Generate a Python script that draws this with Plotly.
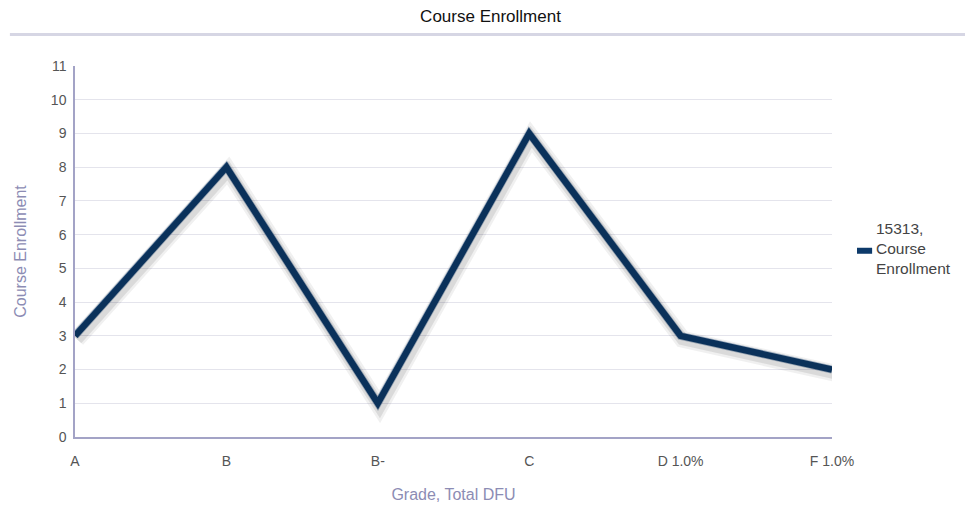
import plotly.graph_objects as go

categories = ["A", "B", "B-", "C", "D 1.0%", "F 1.0%"]
enrollment = [3, 8, 1, 9, 3, 2]
series_name = "15313,<br>Course<br>Enrollment"
y_ticks = list(range(0, 12))

fig = go.Figure()
# soft shadow under the line, drawn on slightly shifted overlay axes
fig.add_trace(go.Scatter(x=categories, y=enrollment, mode="lines",
                         line=dict(color="rgba(0,0,0,0.06)", width=17),
                         xaxis="x2", yaxis="y2", hoverinfo="skip", showlegend=False))
fig.add_trace(go.Scatter(x=categories, y=enrollment, mode="lines",
                         line=dict(color="rgba(0,0,0,0.09)", width=12),
                         xaxis="x2", yaxis="y2", hoverinfo="skip", showlegend=False))
fig.add_trace(go.Scatter(x=categories, y=enrollment, mode="lines",
                         line=dict(color="rgba(13,58,106,0.35)", width=8),
                         hoverinfo="skip", showlegend=False))
fig.add_trace(go.Scatter(x=categories, y=enrollment, mode="lines",
                         name=series_name,
                         line=dict(color="#0d3a6a", width=6.5),
                         showlegend=False))

fig.update_layout(
    width=965, height=505,
    margin=dict(l=67, r=141, t=58, b=74),
    paper_bgcolor="white", plot_bgcolor="white",
    font=dict(family="Liberation Sans, Arial, sans-serif", size=14, color="#555555"),
    title=dict(text="Course Enrollment", x=0.5, xanchor="center", y=0.985, yanchor="middle",
               font=dict(family="Liberation Sans, Arial", size=17, color="#111111")),
    showlegend=False,
    xaxis=dict(
        type="category", range=[0, 5], showgrid=False,
        showline=True, linecolor="#a3a3c6", linewidth=1.5,
        ticks="outside", ticklen=10, tickcolor="rgba(0,0,0,0)",
        tickfont=dict(size=14, color="#555555"),
        title=dict(text="Grade, Total DFU", font=dict(size=16, color="#8c8cb4"), standoff=21),
        zeroline=False,
    ),
    yaxis=dict(
        range=[0, 11], tickvals=y_ticks, showgrid=True, gridcolor="#e4e4ec", gridwidth=1,
        showline=True, linecolor="#a3a3c6", linewidth=1.5,
        ticks="outside", ticklen=4, tickcolor="rgba(0,0,0,0)",
        tickfont=dict(size=14, color="#555555"),
        title=dict(text="Course Enrollment", font=dict(size=16, color="#8c8cb4"), standoff=20),
        zeroline=False,
    ),
    xaxis2=dict(type="category", range=[-0.012, 4.988], overlaying="x", visible=False),
    yaxis2=dict(range=[0.10, 11.10], overlaying="y", visible=False),
    shapes=[
        dict(type="line", xref="paper", yref="paper", x0=-0.086, x1=1.2, y0=1.085, y1=1.085,
             line=dict(color="#d6d6e4", width=3)),
        dict(type="line", xref="paper", yref="paper", x0=1.033, x1=1.053, y0=0.502, y1=0.502,
             line=dict(color="#0d3a6a", width=6)),
    ],
    annotations=[
        dict(text=series_name, xref="paper", yref="paper", x=1.056, y=0.508,
             xanchor="left", yanchor="middle", align="left", showarrow=False,
             font=dict(size=15.5, color="#444444")),
    ],
)

fig.write_html("out.html")
